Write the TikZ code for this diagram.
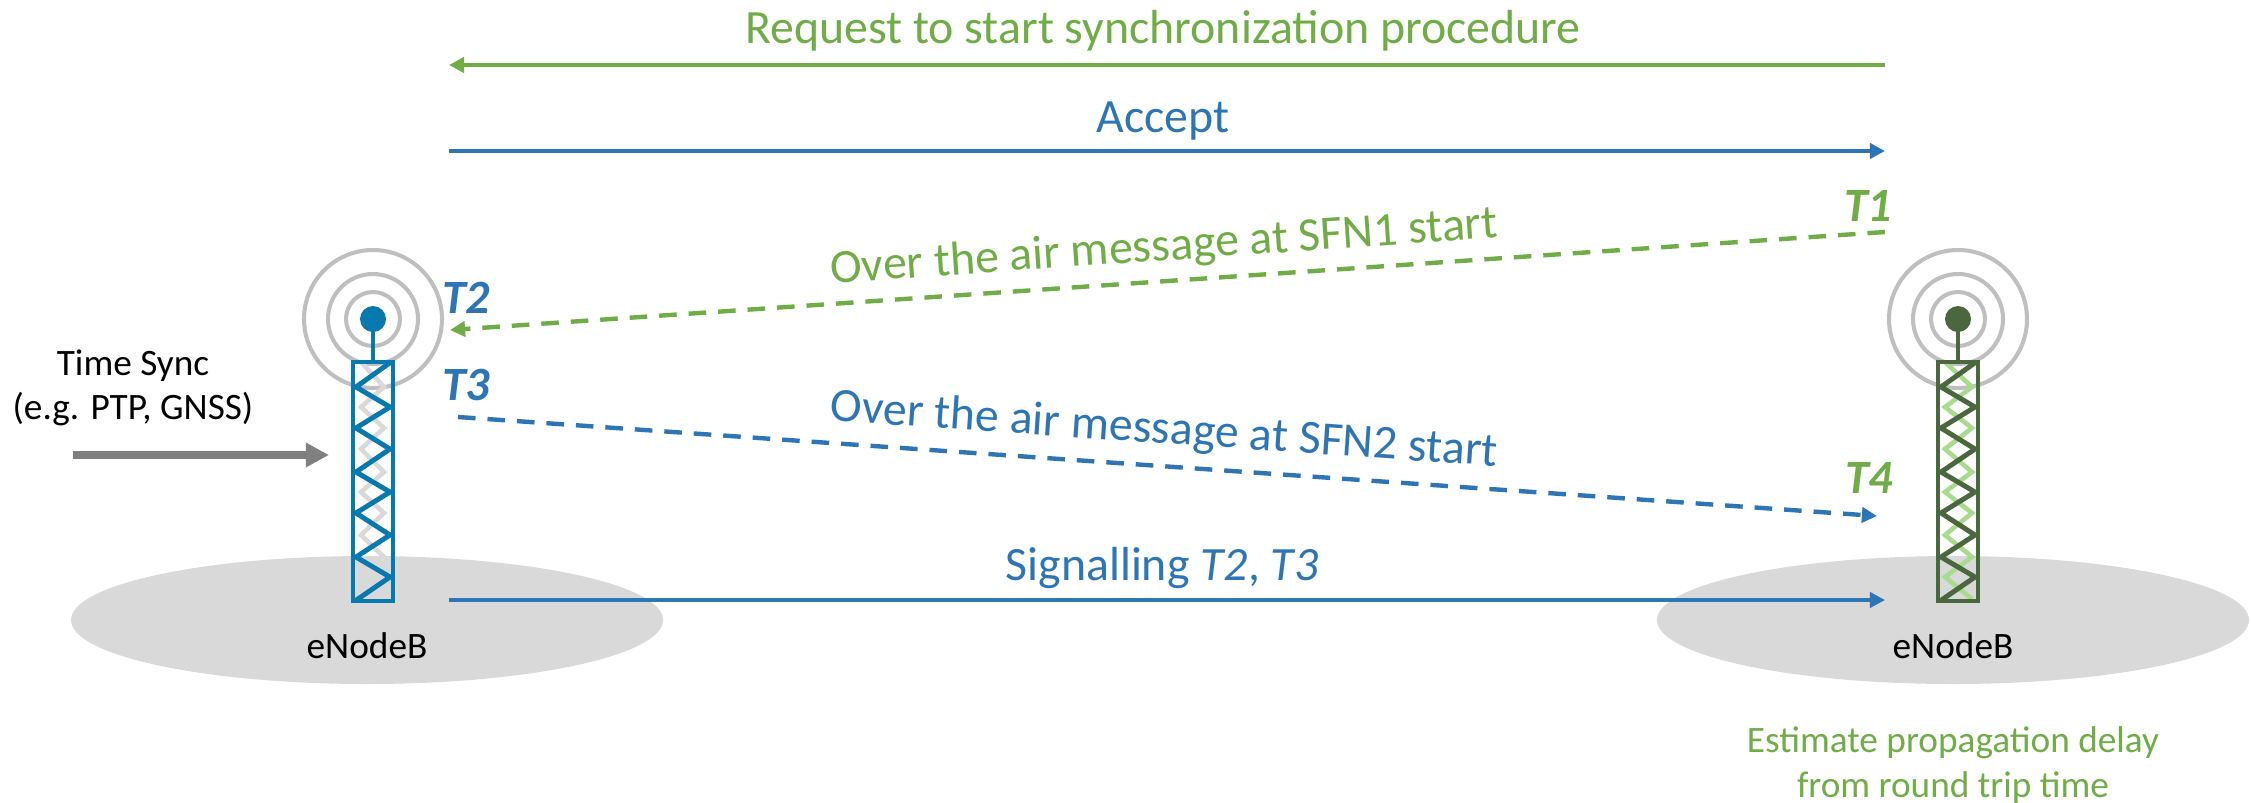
\documentclass[tikz,border=0pt]{standalone}
\usepackage{fontspec}
\setmainfont{Carlito}
\usetikzlibrary{arrows.meta}
\definecolor{linkblue}{HTML}{2E75B6}
\definecolor{linkgreen}{HTML}{70AD47}
\definecolor{towerblue}{HTML}{0779AE}
\definecolor{towergreen}{HTML}{4B6740}
\definecolor{shadegreen}{HTML}{A9DB8F}
\tikzset{
	msg/.style={line width=1.25pt, -{Triangle[length=4.3pt, width=4.3pt]}},
	airmsg/.style={msg, dash pattern=on 5pt off 3.4pt},
	label/.style={font=\fontsize{13.6}{16}\selectfont},
	small/.style={font=\fontsize{10.6}{12.7}\selectfont, align=center},
	stamp/.style={font=\fontsize{13.6}{16}\selectfont\bfseries\itshape},
	ring/.style={draw=black!25, line width=1.15pt},
	mast/.style={line width=1.4pt},
	shade/.style={line width=1.3pt}
}
\begin{document}
\begin{tikzpicture}[x=0.01cm, y=-0.01cm]
	\useasboundingbox (0,0) rectangle (2251,802);

	% ground
	\fill[black!15] (367,620) ellipse (296 and 64);
	\fill[black!15] (1953,620) ellipse (296 and 64);

	% left tower
	\draw[ring] (373,319) circle (27);
	\draw[ring] (373,319) circle (45);
	\draw[ring] (373,319) circle (69);
	\draw[shade, black!15] (361,362) -- (384,387) -- (361,407) -- (384,428) -- (361,449) -- (384,472) -- (361,492) -- (384,513) -- (361,535) -- (384,557) -- (361,577) -- (384,599);
	\draw[mast, towerblue] (373,319) -- (373,362);
	\fill[towerblue] (373,319) circle (13);
	\draw[mast, towerblue] (353,362) rectangle (393,601);
	\draw[mast, towerblue] (391,362) -- (356,387) -- (390,407) -- (356,428) -- (390,449) -- (356,472) -- (390,492) -- (356,513) -- (390,535) -- (356,557) -- (390,577) -- (355,601);

	% right tower
	\draw[ring] (1958,319) circle (27);
	\draw[ring] (1958,319) circle (45);
	\draw[ring] (1958,319) circle (69);
	\draw[shade, shadegreen] (1945,362) -- (1972,387) -- (1945,407) -- (1972,428) -- (1945,449) -- (1972,472) -- (1945,492) -- (1972,513) -- (1945,535) -- (1972,557) -- (1945,577) -- (1972,599);
	\draw[mast, towergreen] (1958,319) -- (1958,362);
	\fill[towergreen] (1958,319) circle (13);
	\draw[mast, towergreen] (1938,362) rectangle (1978,601);
	\draw[mast, towergreen] (1976,362) -- (1941,387) -- (1975,407) -- (1941,428) -- (1975,449) -- (1941,472) -- (1975,492) -- (1941,513) -- (1975,535) -- (1941,557) -- (1975,577) -- (1940,601);

	% ends of the arrows
	\coordinate (reqA) at (1885,65);
	\coordinate (reqB) at (449,65);
	\coordinate (accA) at (449,151);
	\coordinate (accB) at (1885,151);
	\coordinate (airA) at (1885,232);
	\coordinate (airB) at (450,330);
	\coordinate (airC) at (458,417);
	\coordinate (airD) at (1877,516);
	\coordinate (sigA) at (449,600);
	\coordinate (sigB) at (1885,600);
	\coordinate (syncA) at (73,455);
	\coordinate (syncB) at (329,455);

	% arrows
	\draw[msg, linkgreen] (reqA) -- (reqB);
	\draw[msg, linkblue] (accA) -- (accB);
	\draw[airmsg, linkgreen] (airA) -- (airB);
	\draw[airmsg, linkblue] (airC) -- (airD);
	\draw[msg, linkblue] (sigA) -- (sigB);
	\draw[line width=2.45pt, black!50, -{Triangle[length=6.6pt, width=6.6pt]}] (syncA) -- (syncB);

	% labels
	\node[label, text=linkgreen, anchor=base] (req) at (1163,43) {Request to start synchronization procedure};
	\node[label, text=linkblue, anchor=base] (acc) at (1163,132) {Accept};
	\node[label, text=linkgreen, rotate=3.9] (airGreen) at (1164,248) {Over the air message at SFN1 start};
	\node[label, text=linkblue, rotate=-3.9] (airBlue) at (1164,431) {Over the air message at SFN2 start};
	\node[label, text=linkblue, anchor=base] (sig) at (1162,580) {Signalling \textit{T2}, \textit{T3}};
	\node[small] (sync) at (133,388) {Time Sync\\(e.g. PTP, GNSS)};
	\node[small, anchor=base] (enbA) at (367,658) {eNodeB};
	\node[small, anchor=base] (enbB) at (1953,658) {eNodeB};
	\node[small, text=linkgreen] (est) at (1953,765) {Estimate propagation delay\\from round trip time};

	% time stamps
	\node[stamp, text=linkgreen] (tOne) at (1868,206) {T1};
	\node[stamp, text=linkblue] (tTwo) at (466,298) {T2};
	\node[stamp, text=linkblue] (tThree) at (466,385) {T3};
	\node[stamp, text=linkgreen] (tFour) at (1869,478) {T4};
\end{tikzpicture}
\end{document}
